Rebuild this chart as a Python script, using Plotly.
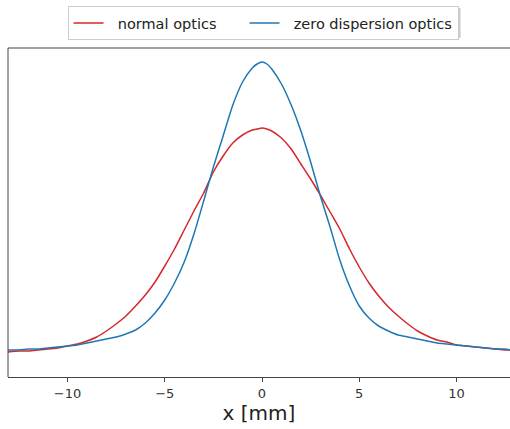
import plotly.graph_objects as go

# positions along x [mm]
x_mm = [-13.06, -12.5, -12.0, -11.5, -11.0, -10.5, -10.0, -9.5, -9.0, -8.5, -8.0, -7.5, -7.0,
        -6.5, -6.0, -5.5, -5.0, -4.5, -4.0, -3.5, -3.0, -2.5, -2.0, -1.5, -1.0, -0.5, -0.25, 0.0,
        0.25, 0.5, 1.0, 1.5, 2.0, 2.5, 3.0, 3.5, 4.0, 4.5, 5.0, 5.5, 6.0, 6.5, 7.0, 7.5, 8.0,
        8.5, 9.0, 9.5, 10.0, 10.5, 11.0, 11.5, 12.0, 12.5, 12.75]

# intensity (arbitrary units)
normal_optics = [25, 26, 26, 27, 28, 29, 31, 33, 36, 40, 46, 53, 61,
                 71, 82, 95, 111, 128, 147, 166, 184, 205, 221, 234, 242, 247, 248, 249,
                 248, 246, 239, 228, 213, 198, 182, 165, 148, 128, 110, 94, 81, 70, 61, 53, 46,
                 41, 37, 35, 32, 31, 30, 29, 28, 27, 27]

zero_dispersion_optics = [27, 27, 28, 28, 29, 30, 31, 32, 34, 36, 38, 40, 43,
                          47, 54, 64, 77, 94, 115, 143, 176, 210, 241, 272, 295, 309, 313, 315,
                          313, 308, 293, 272, 246, 215, 181, 150, 117, 91, 71, 59, 51, 46, 42, 40, 38,
                          36, 34, 33, 32, 31, 30, 29, 28, 28, 27]

series_names = ["normal optics", "zero dispersion optics"]

x_ticks = [-10, -5, 0, 5, 10]
x_range = [-13.06, 12.75]
y_range = [0, 329]

W, H = 510, 429
L, R, T, B = 8, 0, 48, 52
pw, ph = W - L - R, H - T - B

def px2paper(px, py):
    return (px - L) / pw, (H - B - py) / ph

nb = "\u00a0"
label_red = nb * 2 + series_names[0] + nb * 5
label_blue = nb * 2 + series_names[1]

fig = go.Figure()
fig.add_trace(go.Scatter(x=x_mm, y=normal_optics, mode="lines", name=label_red,
                         line=dict(color="#d62728", width=1.5, shape="spline", smoothing=0.6)))
fig.add_trace(go.Scatter(x=x_mm, y=zero_dispersion_optics, mode="lines", name=label_blue,
                         line=dict(color="#1f77b4", width=1.5, shape="spline", smoothing=0.6)))

frame = "#444444"
shapes = [
    dict(type="line", xref="paper", yref="paper", x0=0, x1=0, y0=0, y1=1, line=dict(color=frame, width=1)),
    dict(type="line", xref="paper", yref="paper", x0=0, x1=1, y0=1, y1=1, line=dict(color=frame, width=1)),
]
sx0, sy0 = px2paper(69.5, 38)
sx1, sy1 = px2paper(460.5, 8)
shapes.append(dict(type="rect", xref="paper", yref="paper", x0=sx0, x1=sx1, y0=sy0, y1=sy1,
                   fillcolor="rgba(150,150,150,0.5)", line=dict(width=0), layer="above"))

lx, ly = px2paper(263, 6)

fig.update_layout(
    width=W, height=H,
    margin=dict(l=L, r=R, t=T, b=B),
    paper_bgcolor="white", plot_bgcolor="white",
    font=dict(family="DejaVu Sans", color="#222222"),
    showlegend=True,
    legend=dict(orientation="h", xref="paper", yref="paper", x=lx, y=ly,
                xanchor="center", yanchor="top",
                bgcolor="white", bordercolor="#cccccc", borderwidth=1,
                font=dict(size=14.5, family="DejaVu Sans", color="#222222")),
    shapes=shapes,
    xaxis=dict(range=x_range, tickvals=x_ticks, ticks="outside", ticklen=4, tickwidth=1,
               tickcolor=frame, showgrid=False, zeroline=False, showline=True, linecolor=frame,
               linewidth=1, mirror=False, tickfont=dict(size=13, color="#333333"),
               title=dict(text="x [mm]", font=dict(size=20, color="#222222"), standoff=6)),
    yaxis=dict(range=y_range, showticklabels=False, ticks="", showgrid=False, zeroline=False,
               showline=False),
)

fig.write_html("out.html")
